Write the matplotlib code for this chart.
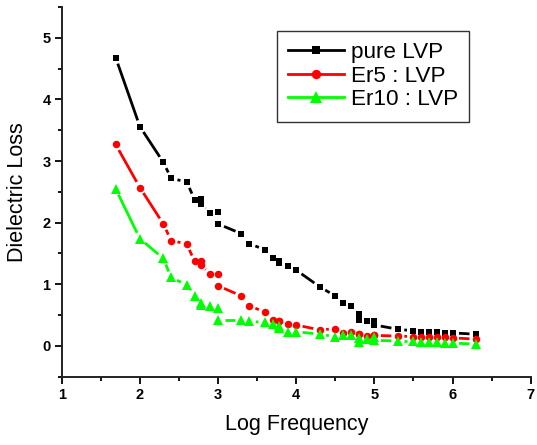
import numpy as np
import matplotlib
matplotlib.use("Agg")
import matplotlib.pyplot as plt
from matplotlib.collections import LineCollection
from matplotlib.lines import Line2D

plt.rcParams['font.family'] = ['Liberation Sans', 'DejaVu Sans']

log_freq = [1.69, 2.0, 2.3, 2.4, 2.6, 2.7, 2.78, 2.78, 2.9, 3.0, 3.0, 3.3, 3.4, 3.6, 3.7,
            3.78, 3.78, 3.9, 4.0, 4.3, 4.5, 4.6, 4.7, 4.8, 4.8, 4.9, 5.0, 5.0, 5.3, 5.5,
            5.6, 5.7, 5.8, 5.9, 6.0, 6.3]
pure_lvp = [4.68, 3.56, 2.98, 2.72, 2.66, 2.375, 2.39, 2.31, 2.16, 2.175, 1.98, 1.82, 1.66,
            1.56, 1.43, 1.38, 1.35, 1.30, 1.23, 0.96, 0.81, 0.70, 0.645, 0.525, 0.42, 0.41,
            0.41, 0.34, 0.27, 0.245, 0.23, 0.23, 0.23, 0.215, 0.21, 0.19]
er5_lvp = [3.27, 2.57, 1.98, 1.71, 1.655, 1.37, 1.37, 1.32, 1.16, 1.17, 0.976, 0.81, 0.65,
           0.55, 0.42, 0.41, 0.40, 0.36, 0.34, 0.26, 0.28, 0.21, 0.23, 0.195, 0.19, 0.16,
           0.18, 0.17, 0.16, 0.15, 0.15, 0.15, 0.15, 0.14, 0.13, 0.11]
er10_lvp = [2.55, 1.74, 1.42, 1.11, 0.99, 0.81, 0.70, 0.67, 0.64, 0.61, 0.42, 0.42, 0.40,
            0.38, 0.35, 0.32, 0.29, 0.23, 0.23, 0.19, 0.15, 0.18, 0.18, 0.135, 0.07, 0.11,
            0.15, 0.09, 0.08, 0.08, 0.07, 0.07, 0.07, 0.055, 0.045, 0.03]
labels = ['pure LVP', 'Er5 : LVP', 'Er10 : LVP']

fig = plt.figure(figsize=(5.37, 4.45), dpi=100)
ax = fig.add_axes([61.7/537, 1-376.7/445, 469/537, 369.7/445])
ax.set_xlim(1, 7)
ax.set_ylim(-0.5, 5.5)

series = [(pure_lvp, '#000000', 's', 5.0),
          (er5_lvp, '#ff0000', 'o', 5.4),
          (er10_lvp, '#00ff00', '^', 6.6)]


def gapped_line(xv, yv, color, gap):
    pts = ax.transData.transform(np.column_stack([xv, yv]))
    inv = ax.transData.inverted()
    segs = []
    for p, q in zip(pts[:-1], pts[1:]):
        d = q - p
        L = np.hypot(d[0], d[1])
        if L <= 2 * gap:
            continue
        u = d / L
        segs.append(inv.transform(np.array([p + u * gap, q - u * gap])))
    lc = LineCollection(segs, colors=color, linewidths=2.0, capstyle='butt', zorder=2)
    ax.add_collection(lc)


handles = []
for (yv, col, mk, ms), lab in zip(series, labels):
    gapped_line(log_freq, yv, col, 6.5)
    ax.plot(log_freq, yv, linestyle='none', marker=mk, markersize=ms, color=col,
            markeredgewidth=0, zorder=3)
    handles.append(Line2D([], [], color=col, marker=mk, markersize=ms * 1.25, linewidth=2.0,
                          markeredgewidth=0, label=lab))

ax.spines['top'].set_visible(False)
ax.spines['right'].set_visible(False)
for s in ('left', 'bottom'):
    ax.spines[s].set_linewidth(1.4)
    ax.spines[s].set_color('#222222')

ax.set_xticks(range(1, 8))
ax.set_yticks(range(0, 6))
ax.set_xticks(np.arange(1.5, 7, 1.0), minor=True)
ax.set_yticks(np.arange(-0.5, 5.6, 1.0), minor=True)
ax.tick_params(which='major', direction='out', length=5, width=1.3, labelsize=10.5, pad=3)
ax.tick_params(which='minor', direction='out', length=3, width=1.3)
for t in ax.get_xticklabels() + ax.get_yticklabels():
    t.set_fontweight('bold')

ax.set_xlabel('Log Frequency', fontsize=15.5, labelpad=9)
ax.set_ylabel('Dielectric Loss', fontsize=15.5, labelpad=10)

leg = ax.legend(handles=handles, loc='upper left', bbox_to_anchor=(0.458, 0.936),
                borderaxespad=0, fontsize=16.2, handlelength=2.5, handletextpad=0.3,
                labelspacing=0.12, borderpad=0.5, fancybox=False, frameon=True)
leg.get_frame().set_edgecolor('black')
leg.get_frame().set_linewidth(1.0)

fig.savefig('out.png', dpi=100)
